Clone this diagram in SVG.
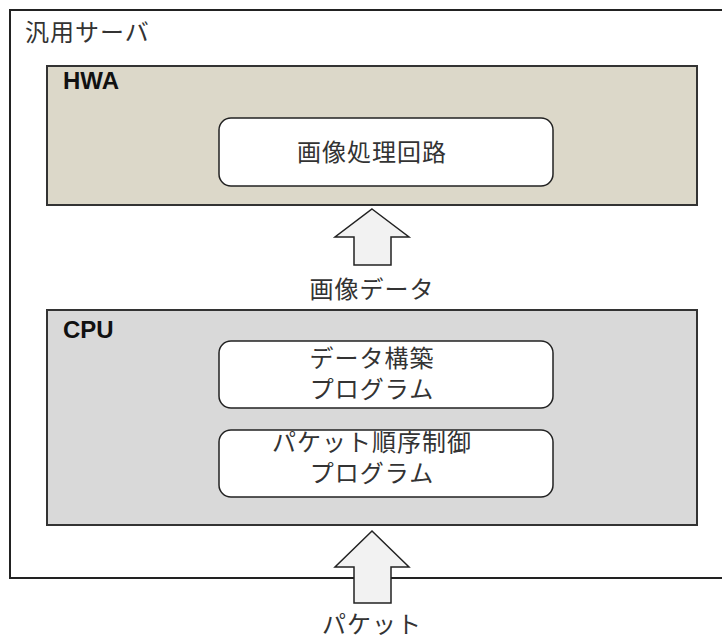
<svg xmlns="http://www.w3.org/2000/svg" width="722" height="639" viewBox="0 0 722 639">
<style>
.frame{fill:#fff;stroke:#222;stroke-width:2}
.group-hwa{fill:#dcd8c9;stroke:#333;stroke-width:2}
.group-cpu{fill:#d9d9d9;stroke:#333;stroke-width:2}
.node{fill:#fff;stroke:#222;stroke-width:1.5}
.arrow{fill:#f2f2f2;stroke:#222;stroke-width:1.5}
.jp{font-family:"Noto Sans CJK JP","Noto Sans",sans-serif;font-size:24px;letter-spacing:1px;fill:#333}
.c{text-anchor:middle}
.b{font-family:"Liberation Sans",Arial,sans-serif;font-weight:bold;font-size:24px;fill:#111}
</style>
<g id="server">
<rect class="frame" x="10" y="10" width="730" height="568"/>
<text class="jp" x="25" y="41">汎用サーバ</text>
</g>
<g id="hwa">
<rect class="group-hwa" x="47" y="66" width="650" height="139"/>
<text class="b" x="63" y="89">HWA</text>
</g>
<g id="image-circuit">
<rect class="node" x="219" y="118" width="334" height="68" rx="12"/>
<text class="jp c" x="372" y="161">画像処理回路</text>
</g>
<g id="cpu">
<rect class="group-cpu" x="47" y="310" width="650" height="215"/>
<text class="b" x="63" y="338">CPU</text>
</g>
<g id="data-build">
<rect class="node" x="219" y="341" width="334" height="67" rx="12"/>
<text class="jp c" x="372" y="367">データ構築</text>
<text class="jp c" x="372" y="398">プログラム</text>
</g>
<g id="packet-order">
<rect class="node" x="219" y="430" width="334" height="67" rx="12"/>
<text class="jp c" x="372" y="451">パケット順序制御</text>
<text class="jp c" x="372" y="482">プログラム</text>
</g>
<g id="connectors">
<polygon class="arrow" points="372,209 409,237 391,237 391,265 354,265 354,237 335,237"/>
<text class="jp c" x="372" y="298">画像データ</text>
<polygon class="arrow" points="372,531 409,567 391,567 391,603 354,603 354,567 335,567"/>
<text class="jp c" x="372" y="633">パケット</text>
</g>
</svg>
